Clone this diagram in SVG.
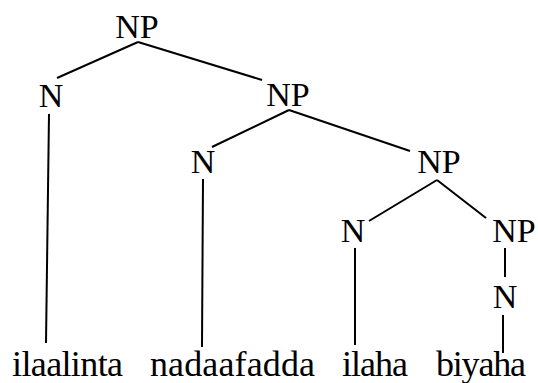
<svg xmlns="http://www.w3.org/2000/svg" width="538" height="383" viewBox="0 0 538 383">
<style>
.lbl { text-anchor: middle; }
.word { font-size: 36px; }
.edge { stroke: #000; stroke-width: 2; fill: none; stroke-linecap: butt; }
</style>
<rect width="538" height="383" fill="#fff"/>
<g id="connectors">
<line class="edge" x1="138" y1="42" x2="57" y2="78"/>
<line class="edge" x1="138" y1="42" x2="262" y2="80"/>
<line class="edge" x1="49" y1="114" x2="46" y2="343"/>
<line class="edge" x1="289" y1="110" x2="212" y2="147"/>
<line class="edge" x1="289" y1="110" x2="410" y2="151"/>
<line class="edge" x1="203" y1="179" x2="202" y2="347"/>
<line class="edge" x1="437" y1="180" x2="369" y2="221"/>
<line class="edge" x1="437" y1="180" x2="486" y2="218"/>
<line class="edge" x1="355" y1="248" x2="355" y2="345"/>
<line class="edge" x1="505" y1="248" x2="505" y2="277"/>
<line class="edge" x1="503" y1="315" x2="503" y2="353"/>
</g>
<g font-family="Liberation Serif, Times New Roman, serif" font-size="34" fill="#000">
<g id="np0"><text class="lbl" x="137" y="38">NP</text></g>
<g id="n1"><text class="lbl" x="51" y="107">N</text></g>
<g id="np1"><text class="lbl" x="288" y="106">NP</text></g>
<g id="n2"><text class="lbl" x="203" y="173">N</text></g>
<g id="np3"><text class="lbl" x="439" y="173">NP</text></g>
<g id="n3"><text class="lbl" x="353" y="242">N</text></g>
<g id="np4"><text class="lbl" x="514" y="242">NP</text></g>
<g id="n5"><text class="lbl" x="505" y="308">N</text></g>
<g id="w1"><text class="word" x="12" y="376" textLength="111">ilaalinta</text></g>
<g id="w2"><text class="word" x="150" y="376" textLength="165">nadaafadda</text></g>
<g id="w3"><text class="word" x="342" y="376" textLength="66">ilaha</text></g>
<g id="w4"><text class="word" x="436" y="376" textLength="90">biyaha</text></g>
</g>
</svg>
